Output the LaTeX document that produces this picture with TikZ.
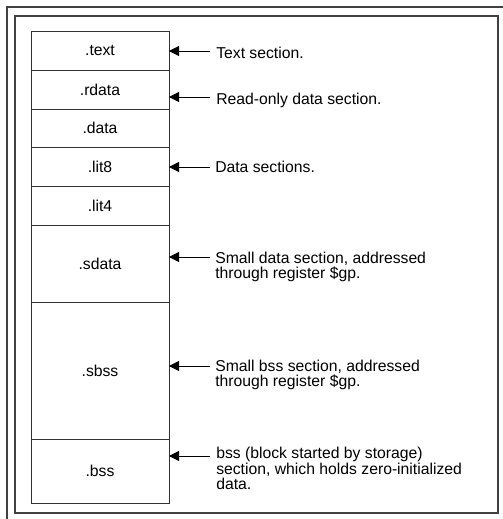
\documentclass[tikz,border=0pt]{standalone}
\usepackage{fontspec}
\setmainfont{Liberation Sans}
\usetikzlibrary{positioning,arrows.meta}

\begin{document}
\begin{tikzpicture}[x=0.75pt,y=-0.75pt,
   sect/.style={draw=black!80, line width=0.7pt, minimum width=103.5pt, inner sep=0pt, outer sep=0pt, font=\fontsize{11.8}{13}\selectfont},
   note/.style={anchor=base west, inner sep=0pt, align=left, font=\fontsize{11.8}{10.6}\selectfont},
   pointer/.style={-{Triangle[length=7.5pt,width=7.5pt]}, line width=0.6pt}]
   \useasboundingbox (0,0) rectangle (503,519);
   \draw[line width=0.9pt, black!75] (7,519) -- (7,7) -- (503,7);
   \draw[line width=0.9pt, black!75] (15,16) rectangle (498,513);
   \node[sect, minimum height=29.25pt, anchor=north] (text) at (100,31) {.text};
   \node[sect, minimum height=29.25pt, below=0pt of text] (rdata) {.rdata};
   \node[sect, minimum height=28.5pt, below=0pt of rdata] (data) {.data};
   \node[sect, minimum height=29.25pt, below=0pt of data] (lit8) {.lit8};
   \node[sect, minimum height=29.25pt, below=0pt of lit8] (lit4) {.lit4};
   \node[sect, minimum height=57.75pt, below=0pt of lit4] (sdata) {.sdata};
   \node[sect, minimum height=102.75pt, below=0pt of sdata] (sbss) {.sbss};
   \node[sect, minimum height=48pt, below=0pt of sbss] (bss) {.bss};
   \node[note] (ntext) at (216,58) {Text section.};
   \node[note] (nrdata) at (216,104) {Read-only data section.};
   \node[note] (nlit8) at (215,172) {Data sections.};
   \node[note] (nsdata) at (215,278) {Small data section, addressed\\through register \$gp.};
   \node[note] (nsbss) at (215,386) {Small bss section, addressed\\through register \$gp.};
   \node[note] (nbss) at (216,489) {bss (block started by storage)\\section, which holds zero-initialized\\data.};
   \coordinate (ptext) at (210,51);
   \coordinate (prdata) at (210,97);
   \coordinate (plit8) at (210,167);
   \coordinate (psdata) at (210,257);
   \coordinate (psbss) at (210,366);
   \coordinate (pbss) at (210,456);
   \draw[pointer] (ptext) -- (text.east |- ptext);
   \draw[pointer] (prdata) -- (rdata.east |- prdata);
   \draw[pointer] (plit8) -- (lit8.east |- plit8);
   \draw[pointer] (psdata) -- (sdata.east |- psdata);
   \draw[pointer] (psbss) -- (sbss.east |- psbss);
   \draw[pointer] (pbss) -- (bss.east |- pbss);
\end{tikzpicture}
\end{document}
